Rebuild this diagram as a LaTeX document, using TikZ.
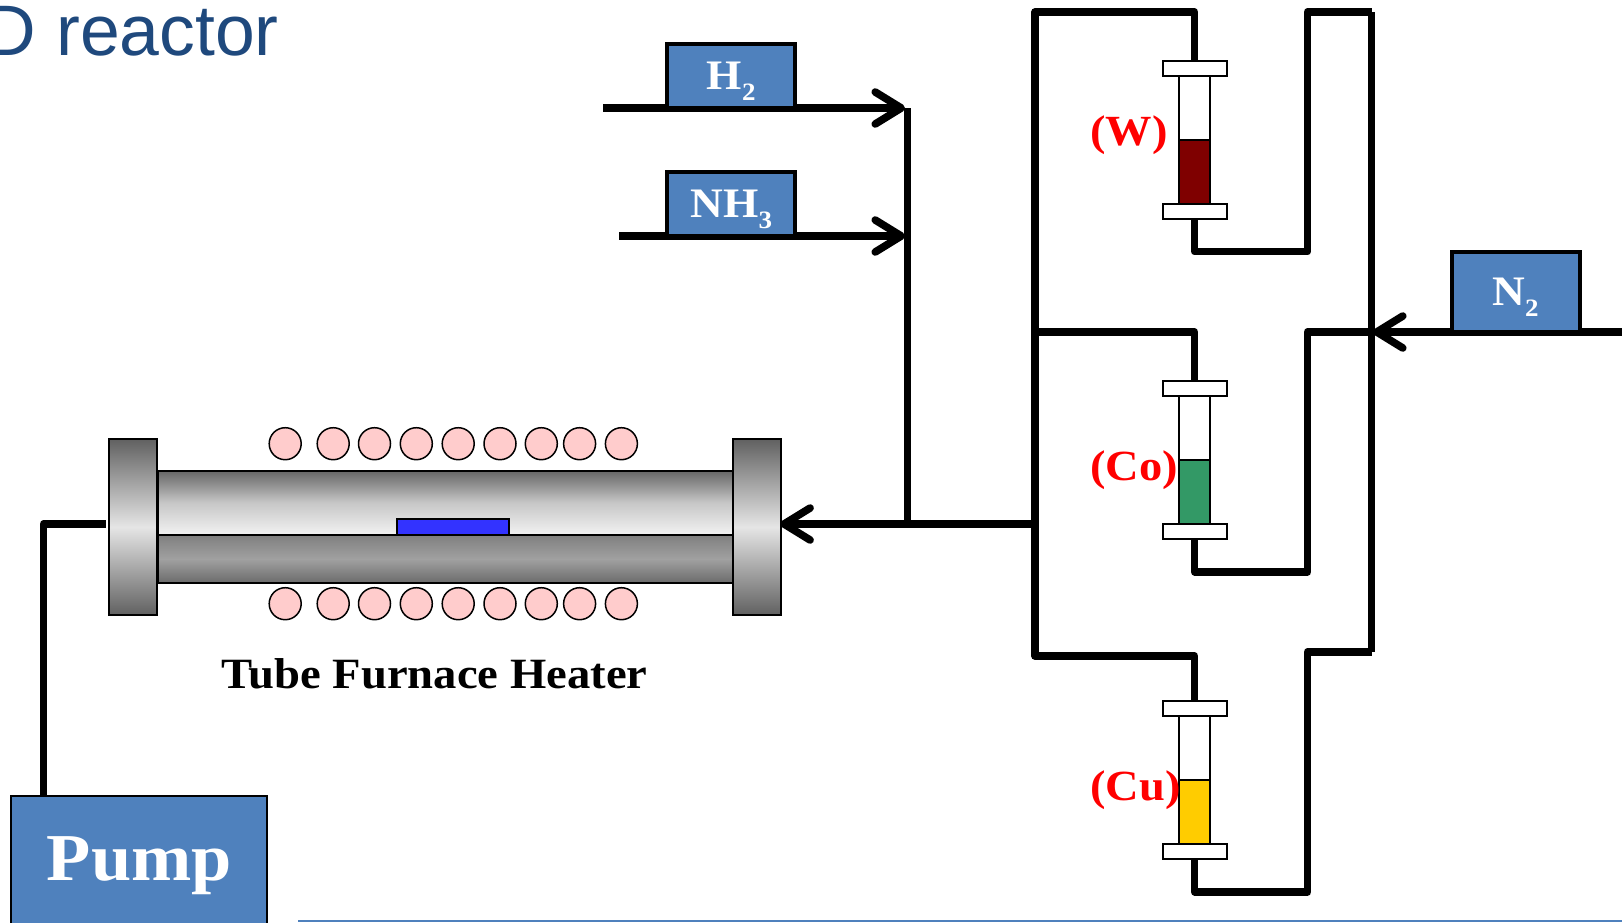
\documentclass[tikz,border=0pt]{standalone}
\usepackage{fontspec}
\setmainfont{Liberation Serif}
\newfontfamily\wideserif[FakeStretch=1.08]{Liberation Serif}
\newfontfamily\titlefont{Liberation Sans}
\usetikzlibrary{arrows.meta,backgrounds}
\definecolor{boxblue}{HTML}{4F81BD}
\definecolor{titleblue}{HTML}{1F497D}
\definecolor{coilpink}{HTML}{FFCCCC}
\definecolor{samplecolor}{HTML}{3333FF}
\definecolor{wred}{HTML}{7F0000}
\definecolor{cogreen}{HTML}{339966}
\definecolor{cuyellow}{HTML}{FFCC00}
\newcommand{\fs}[1]{\fontsize{#1}{#1}\selectfont}
\newcommand{\gasname}[2]{\bfseries\wideserif\fs{42}#1\raisebox{-11pt}{\fs{25}#2}}
\tikzset{
  pipe/.style={line width=7.3pt,line join=round,black},
  arrowpipe/.style={pipe,-{Straight Barb[length=26pt,width=32pt,round,line width=7.6pt]}},
  gasbox/.style={draw=black,line width=4pt,fill=boxblue,minimum width=128pt,minimum height=64pt,inner sep=0pt},
  gaslabel/.style={text=white,inner sep=0pt,anchor=base},
  flangeend/.style={draw=black,line width=2pt,minimum width=48pt,minimum height=176pt,inner sep=0pt,
    shading=axis,top color=black!62,bottom color=black!62,middle color=black!10},
  coil/.style={circle,draw=black,line width=1.5pt,fill=coilpink,minimum size=32pt,inner sep=0pt},
  vialcap/.style={draw=black,line width=2pt,fill=white,minimum width=64pt,minimum height=15pt,inner sep=0pt},
  vialglass/.style={draw=black,line width=2pt,fill=white,minimum width=31.5pt,minimum height=130pt,inner sep=0pt},
  vialliquid/.style={draw=black,line width=2pt,minimum width=31.5pt,minimum height=64pt,inner sep=0pt},
  metal/.style={red,inner sep=0pt,anchor=base west,font=\bfseries\wideserif\fs{43}},
}
\begin{document}
\begin{tikzpicture}[x=1pt,y=-1pt]
\useasboundingbox (0,0) rectangle (1622,922);
% title
\node[anchor=base east,inner sep=0pt,text=titleblue,font=\titlefont\fs{71.5}] (title) at (279,55) {D reactor};
% furnace
\node[draw=black,line width=2pt,minimum width=576pt,minimum height=64pt,inner sep=0pt,shading=axis,top color=black!60,bottom color=black!5,middle color=black!22] (tubeup) at (445.5,502.7) {};
\node[draw=black,line width=2pt,minimum width=576pt,minimum height=48pt,inner sep=0pt,shading=axis,top color=black!50,bottom color=black!58,middle color=black!37] (tubelow) at (445.5,559) {};
\node[draw=black,line width=2pt,fill=samplecolor,minimum width=112pt,minimum height=16pt,inner sep=0pt] (sample) at (453,526.7) {};
\node[flangeend] (flangeL) at (133.3,527) {};
\node[flangeend] (flangeR) at (757.3,527) {};
\foreach \n/\x in {a/285.2,b/333.2,c/374.5,d/416.3,e/458.2,f/500,g/541.3,h/579.6,i/621.4}{
  \node[coil] (top\n) at (\x,443.7) {};
  \node[coil] (bot\n) at (\x,603.7) {};
}
\node[anchor=base,inner sep=0pt,font=\bfseries\wideserif\fs{43.2}] (furnacelabel) at (434.5,688) {Tube Furnace Heater};
% pump
\node[draw=black,line width=2pt,fill=boxblue,minimum width=256pt,minimum height=140pt,inner sep=0pt] (pump) at (139,866) {};
\node[anchor=base,inner sep=0pt,text=white,font=\bfseries\wideserif\fs{67}] (pumplabel) at (139.3,880) {Pump};
% gas boxes
\node[gasbox] (h2) at (731.3,76.2) {};
\node[gaslabel] (h2label) at (731.3,89) {\gasname{H}{2}};
\node[gasbox] (nh3) at (731.3,204.2) {};
\node[gaslabel] (nh3label) at (731.3,217) {\gasname{NH}{3}};
\node[gasbox,minimum height=80pt] (n2) at (1516,292) {};
\node[gaslabel] (n2label) at (1515.5,305) {\gasname{N}{2}};
% vials
\foreach \r/\dy/\col/\lab/\ly in {W/0/wred/{(W)}/145,Co/320/cogreen/{(Co)}/480,Cu/640/cuyellow/{(Cu)}/800}{
  \node[vialglass] (glass\r) at (1194.7,{140+\dy}) {};
  \node[vialliquid,fill=\col] (liq\r) at (1194.7,{171.5+\dy}) {};
  \node[vialcap] (capt\r) at (1194.7,{68+\dy}) {};
  \node[vialcap] (capb\r) at (1194.7,{211.7+\dy}) {};
  \node[metal] (lab\r) at (1090,\ly) {\lab};
}
% bottom rule
\coordinate (ruleL) at (298,921);
\coordinate (ruleR) at (1622,921);
\draw[boxblue,line width=2pt] (ruleL) -- (ruleR);
% connector way points
\coordinate (h2in) at (603,108);
\coordinate (h2tip) at (905,108);
\coordinate (nh3in) at (619.3,236);
\coordinate (nh3tip) at (905,236);
\coordinate (tee1) at (907.7,108);
\coordinate (tee3) at (907.7,524);
\coordinate (manifold) at (1035,524);
\coordinate (l1) at (1035,12);
\coordinate (l2) at (1035,332);
\coordinate (l3) at (1035,656);
\coordinate (rW) at (1307.5,251.7);
\coordinate (rCo) at (1307.5,572);
\coordinate (rCu) at (1307.5,892);
\coordinate (r1) at (1371.5,12);
\coordinate (r2) at (1371.5,332);
\coordinate (r3) at (1371.5,652);
\coordinate (n2in) at (1622,332);
\coordinate (n2tip) at (1373,332);
\coordinate (pumpcorner) at (43.4,524);
\begin{pgfonlayer}{background}
\draw[arrowpipe] (h2in) -- (h2tip);
\draw[arrowpipe] (nh3in) -- (nh3tip);
\draw[pipe] (tee1) -- (tee3);
\draw[arrowpipe,shorten >=-2pt] (manifold) -- (flangeR.east|-manifold);
\draw[pipe,shorten >=2pt] (pumpcorner|-pump.north) -- (pumpcorner) -- (flangeL.west|-pumpcorner);
\draw[arrowpipe] (n2in) -- (n2tip);
\draw[pipe] (captCu.north) -- (captCu.north|-l3) -- (l3) -- (l1) -- (captW.north|-l1) -- (captW.north);
\draw[pipe] (l2) -- (captCo.north|-l2) -- (captCo.north);
\draw[pipe] (capbW.south) -- (capbW.south|-rW) -- (rW) -- (rW|-r1) -- (r1);
\draw[pipe] (capbCo.south) -- (capbCo.south|-rCo) -- (rCo) -- (rCo|-r2) -- (r2);
\draw[pipe] (capbCu.south) -- (capbCu.south|-rCu) -- (rCu) -- (rCu|-r3) -- (r3);
\draw[pipe] (r1) -- (r3);
\end{pgfonlayer}
\end{tikzpicture}
\end{document}
